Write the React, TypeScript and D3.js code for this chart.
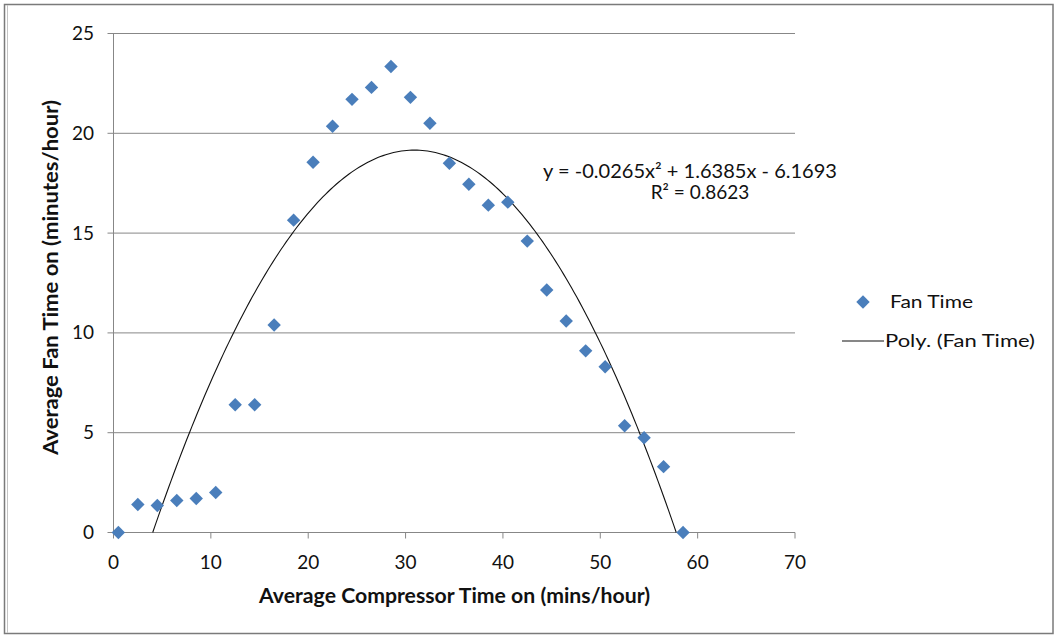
import React from "react";
import * as d3 from "d3";

const compressorTime: number[] = [
  0.5, 2.5, 4.5, 6.5, 8.5, 10.5, 12.5, 14.5, 16.5, 18.5, 20.5, 22.5, 24.5, 26.5, 28.5,
  30.5, 32.5, 34.5, 36.5, 38.5, 40.5, 42.5, 44.5, 46.5, 48.5, 50.5, 52.5, 54.5, 56.5, 58.5,
];
const fanTime: number[] = [
  0, 1.4, 1.35, 1.6, 1.7, 2.0, 6.4, 6.4, 10.4, 15.65, 18.55, 20.35, 21.7, 22.3, 23.35,
  21.8, 20.5, 18.5, 17.45, 16.4, 16.55, 14.6, 12.15, 10.6, 9.1, 8.3, 5.35, 4.75, 3.3, 0,
];
const xTicks: number[] = [0, 10, 20, 30, 40, 50, 60, 70];
const yTicks: number[] = [0, 5, 10, 15, 20, 25];
const trendCoef: number[] = [-0.0265, 1.6385, -6.1693]; // a, b, c
const equationLabel = "y = -0.0265x² + 1.6385x - 6.1693";
const r2Label = "R² = 0.8623";
const seriesName = "Fan Time";
const trendName = "Poly. (Fan Time)";
const xTitle = "Average Compressor Time on (mins/hour)";
const yTitle = "Average Fan Time on (minutes/hour)";

const W = 1058;
const H = 636;
const left = 113.5;
const right = 795;
const top = 33.5;
const bottom = 532.5;
const FONT = "Lato, 'Open Sans', sans-serif";
const BLUE = "#4A7EBB";
const GRID = "#878787";

export default function App() {
  const x = d3.scaleLinear().domain([0, 70]).range([left, right]);
  const y = d3.scaleLinear().domain([0, 25]).range([bottom, top]);

  const [a, b, c] = trendCoef;
  const f = (v: number) => a * v * v + b * v + c;
  const disc = Math.sqrt(b * b - 4 * a * c);
  const r1 = (-b + disc) / (2 * a);
  const r2 = (-b - disc) / (2 * a);
  const lo = Math.min(r1, r2);
  const hi = Math.max(r1, r2);
  const xs = d3.range(0, 201).map((i) => lo + ((hi - lo) * i) / 200);
  const line = d3
    .line<number>()
    .x((v) => x(v))
    .y((v) => y(Math.max(0, f(v))));
  const trendPath = line(xs) || "";

  const diamond = d3.symbol(d3.symbolSquare, 90)() || "";

  return (
    <svg
      width={W}
      height={H}
      style={{ position: "absolute", left: 0, top: 0, background: "#fff" }}
      fontFamily={FONT}
    >
      <rect x={0} y={0} width={W} height={H} fill="#fff" />
      {/* outer border */}
      <rect x={4.5} y={4.5} width={1048.5} height={629} fill="none" stroke="#7a7a7a" strokeWidth={1.5} />
      <line x1={7.5} y1={5} x2={7.5} y2={633} stroke="#c4c4c4" strokeWidth={1} />

      {/* gridlines */}
      {yTicks.filter((t) => t > 0).map((t) => (
        <line key={"g" + t} x1={left - 6} x2={right} y1={y(t)} y2={y(t)} stroke={GRID} strokeWidth={1} />
      ))}
      {/* y axis */}
      <line x1={left} x2={left} y1={top} y2={bottom} stroke={GRID} strokeWidth={1} />
      <line x1={left - 6} x2={left} y1={y(0)} y2={y(0)} stroke={GRID} strokeWidth={1} />
      {/* x axis */}
      <line x1={left} x2={right} y1={bottom} y2={bottom} stroke={GRID} strokeWidth={1} />
      {xTicks.map((t) => (
        <line key={"xt" + t} x1={x(t)} x2={x(t)} y1={bottom} y2={bottom + 6} stroke={GRID} strokeWidth={1} />
      ))}

      {/* tick labels */}
      {yTicks.map((t) => (
        <text key={"yl" + t} x={94} y={y(t) + 6.5} textAnchor="end" fontSize={19} fill="#111">
          {t}
        </text>
      ))}
      {xTicks.map((t) => (
        <text key={"xl" + t} x={x(t)} y={569} textAnchor="middle" fontSize={19} fill="#111">
          {t}
        </text>
      ))}

      {/* trendline */}
      <path d={trendPath} fill="none" stroke="#111" strokeWidth={1.1} />

      {/* points */}
      {compressorTime.map((v, i) => (
        <path
          key={"p" + i}
          d={diamond}
          transform={`translate(${x(v)},${y(fanTime[i])}) rotate(45)`}
          fill={BLUE}
        />
      ))}

      {/* equation */}
      <text x={543} y={178} fontSize={19} fill="#111" textLength={294} lengthAdjust="spacingAndGlyphs">
        {equationLabel}
      </text>
      <text x={700} y={199} fontSize={19} fill="#111" textAnchor="middle">
        {r2Label}
      </text>

      {/* axis titles */}
      <text
        x={259}
        y={603}
        fontSize={20}
        fontWeight="bold"
        fill="#111"
        textLength={391}
        lengthAdjust="spacingAndGlyphs"
      >
        {xTitle}
      </text>
      <text
        transform="translate(58,455) rotate(-90)"
        x={0}
        y={0}
        fontSize={20}
        fontWeight="bold"
        fill="#111"
        textLength={355}
        lengthAdjust="spacingAndGlyphs"
      >
        {yTitle}
      </text>

      {/* legend */}
      <path d={diamond} transform="translate(863,302) rotate(45)" fill={BLUE} />
      <text x={890} y={308} fontSize={18} fill="#111" textLength={83} lengthAdjust="spacingAndGlyphs">
        {seriesName}
      </text>
      <line x1={842} x2={884} y1={341} y2={341} stroke="#111" strokeWidth={1.1} />
      <text x={885} y={347} fontSize={18} fill="#111" textLength={150} lengthAdjust="spacingAndGlyphs">
        {trendName}
      </text>
    </svg>
  );
}
